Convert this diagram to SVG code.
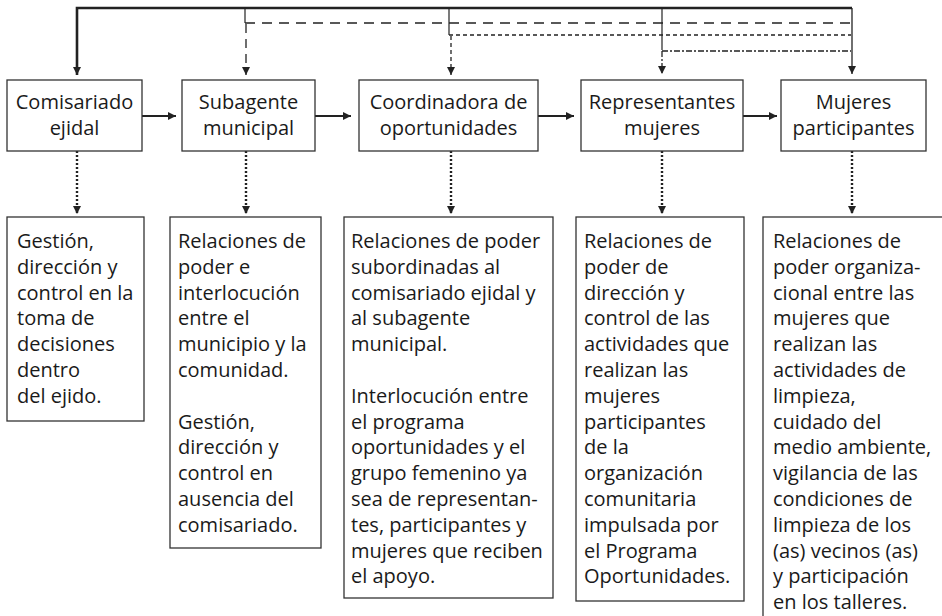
<svg xmlns="http://www.w3.org/2000/svg" width="942" height="616" viewBox="0 0 942 616">
<style>
.box{fill:#fff;stroke:#333;stroke-width:1.3}
.t{font-family:"Open Sans","Noto Sans","Liberation Sans",sans-serif;font-size:20px;fill:#1a1a1a}
.c{text-anchor:middle}
.ln{fill:none;stroke:#222}
</style>
<defs>
<marker id="ah" markerUnits="userSpaceOnUse" markerWidth="9" markerHeight="9" refX="8" refY="4" orient="auto">
<path d="M0,0 L8,4 L0,8 z" fill="#222"/>
</marker>
</defs>
<g id="connectors">
<path class="ln" d="M852,8 H77 V75" stroke-width="2.6" marker-end="url(#ah)"/>
<path class="ln" d="M852,8 V74" stroke-width="1.3" marker-end="url(#ah)"/>
<path class="ln" d="M245,8 V23" stroke-width="1.2"/>
<path class="ln" d="M245,23 H851" stroke-width="1.3" stroke-dasharray="10,7"/>
<path class="ln" d="M246,24 V75" stroke-width="1.3" stroke-dasharray="9,6" marker-end="url(#ah)"/>
<path class="ln" d="M449,8 V35" stroke-width="1.2"/>
<path class="ln" d="M449,35 H851" stroke-width="1.3" stroke-dasharray="4,3"/>
<path class="ln" d="M451,36 V75" stroke-width="1.3" stroke-dasharray="4,3" marker-end="url(#ah)"/>
<path class="ln" d="M662,8 V50" stroke-width="1.2"/>
<path class="ln" d="M662,51 H851" stroke-width="1.3" stroke-dasharray="6,2,2,2"/>
<path class="ln" d="M662,51 V74" stroke-width="1.3" stroke-dasharray="6,2,2,2" marker-end="url(#ah)"/>
<path class="ln" d="M142,116 H176" stroke-width="2.2" marker-end="url(#ah)"/>
<path class="ln" d="M315,116 H351" stroke-width="2.2" marker-end="url(#ah)"/>
<path class="ln" d="M538,116 H574" stroke-width="2.2" marker-end="url(#ah)"/>
<path class="ln" d="M743,116 H777" stroke-width="2.2" marker-end="url(#ah)"/>
<path class="ln" d="M77,151 V214" stroke-width="2.4" stroke-dasharray="2,2" marker-end="url(#ah)"/>
<path class="ln" d="M246,151 V214" stroke-width="2.4" stroke-dasharray="2,2" marker-end="url(#ah)"/>
<path class="ln" d="M451,151 V214" stroke-width="2.4" stroke-dasharray="2,2" marker-end="url(#ah)"/>
<path class="ln" d="M662,151 V214" stroke-width="2.4" stroke-dasharray="2,2" marker-end="url(#ah)"/>
<path class="ln" d="M852,151 V214" stroke-width="2.4" stroke-dasharray="2,2" marker-end="url(#ah)"/>
</g>
<g id="n1">
<rect class="box" x="7" y="80" width="135" height="71"/>
<text class="t c" x="74.5" y="109">Comisariado</text>
<text class="t c" x="74.5" y="135">ejidal</text>
</g>
<g id="n2">
<rect class="box" x="182" y="80" width="133" height="71"/>
<text class="t c" x="248.5" y="109">Subagente</text>
<text class="t c" x="248.5" y="135">municipal</text>
</g>
<g id="n3">
<rect class="box" x="359" y="80" width="179" height="71"/>
<text class="t c" x="448.5" y="109">Coordinadora de</text>
<text class="t c" x="448.5" y="135">oportunidades</text>
</g>
<g id="n4">
<rect class="box" x="581" y="80" width="162" height="71"/>
<text class="t c" x="662" y="109">Representantes</text>
<text class="t c" x="662" y="135">mujeres</text>
</g>
<g id="n5">
<rect class="box" x="781" y="80" width="145" height="71"/>
<text class="t c" x="853.5" y="109">Mujeres</text>
<text class="t c" x="853.5" y="135">participantes</text>
</g>
<g id="d1">
<rect class="box" x="7" y="217" width="137" height="204"/>
<text class="t" x="17" y="248">
<tspan x="17" dy="0">Gestión,</tspan>
<tspan x="17" dy="25.8">dirección y</tspan>
<tspan x="17" dy="25.8">control en la</tspan>
<tspan x="17" dy="25.8">toma de</tspan>
<tspan x="17" dy="25.8">decisiones</tspan>
<tspan x="17" dy="25.8">dentro</tspan>
<tspan x="17" dy="25.8">del ejido.</tspan>
</text>
</g>
<g id="d2">
<rect class="box" x="170" y="217" width="151" height="331"/>
<text class="t" x="178" y="248">
<tspan x="178" dy="0">Relaciones de</tspan>
<tspan x="178" dy="25.8">poder e</tspan>
<tspan x="178" dy="25.8">interlocución</tspan>
<tspan x="178" dy="25.8">entre el</tspan>
<tspan x="178" dy="25.8">municipio y la</tspan>
<tspan x="178" dy="25.8">comunidad.</tspan>
<tspan x="178" dy="51.6">Gestión,</tspan>
<tspan x="178" dy="25.8">dirección y</tspan>
<tspan x="178" dy="25.8">control en</tspan>
<tspan x="178" dy="25.8">ausencia del</tspan>
<tspan x="178" dy="25.8">comisariado.</tspan>
</text>
</g>
<g id="d3">
<rect class="box" x="344" y="217" width="209" height="381"/>
<text class="t" x="351" y="248">
<tspan x="351" dy="0">Relaciones de poder</tspan>
<tspan x="351" dy="25.8">subordinadas al</tspan>
<tspan x="351" dy="25.8">comisariado ejidal y</tspan>
<tspan x="351" dy="25.8">al subagente</tspan>
<tspan x="351" dy="25.8">municipal.</tspan>
<tspan x="351" dy="51.6">Interlocución entre</tspan>
<tspan x="351" dy="25.8">el programa</tspan>
<tspan x="351" dy="25.8">oportunidades y el</tspan>
<tspan x="351" dy="25.8">grupo femenino ya</tspan>
<tspan x="351" dy="25.8">sea de representan-</tspan>
<tspan x="351" dy="25.8">tes, participantes y</tspan>
<tspan x="351" dy="25.8">mujeres que reciben</tspan>
<tspan x="351" dy="25.8">el apoyo.</tspan>
</text>
</g>
<g id="d4">
<rect class="box" x="576" y="217" width="168" height="384"/>
<text class="t" x="584" y="248">
<tspan x="584" dy="0">Relaciones de</tspan>
<tspan x="584" dy="25.8">poder de</tspan>
<tspan x="584" dy="25.8">dirección y</tspan>
<tspan x="584" dy="25.8">control de las</tspan>
<tspan x="584" dy="25.8">actividades que</tspan>
<tspan x="584" dy="25.8">realizan las</tspan>
<tspan x="584" dy="25.8">mujeres</tspan>
<tspan x="584" dy="25.8">participantes</tspan>
<tspan x="584" dy="25.8">de la</tspan>
<tspan x="584" dy="25.8">organización</tspan>
<tspan x="584" dy="25.8">comunitaria</tspan>
<tspan x="584" dy="25.8">impulsada por</tspan>
<tspan x="584" dy="25.8">el Programa</tspan>
<tspan x="584" dy="25.8">Oportunidades.</tspan>
</text>
</g>
<g id="d5">
<rect class="box" x="763" y="217" width="190" height="420"/>
<text class="t" x="773" y="248">
<tspan x="773" dy="0">Relaciones de</tspan>
<tspan x="773" dy="25.8">poder organiza-</tspan>
<tspan x="773" dy="25.8">cional entre las</tspan>
<tspan x="773" dy="25.8">mujeres que</tspan>
<tspan x="773" dy="25.8">realizan las</tspan>
<tspan x="773" dy="25.8">actividades de</tspan>
<tspan x="773" dy="25.8">limpieza,</tspan>
<tspan x="773" dy="25.8">cuidado del</tspan>
<tspan x="773" dy="25.8">medio ambiente,</tspan>
<tspan x="773" dy="25.8">vigilancia de las</tspan>
<tspan x="773" dy="25.8">condiciones de</tspan>
<tspan x="773" dy="25.8">limpieza de los</tspan>
<tspan x="773" dy="25.8">(as) vecinos (as)</tspan>
<tspan x="773" dy="25.8">y participación</tspan>
<tspan x="773" dy="25.8">en los talleres.</tspan>
</text>
</g>
</svg>
